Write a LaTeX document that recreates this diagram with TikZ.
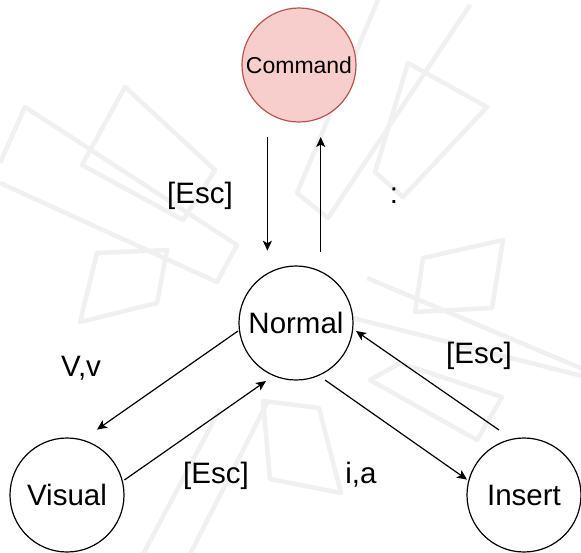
\documentclass[tikz,border=0pt]{standalone}
\usepackage{fontspec}
\setmainfont{Liberation Sans}
\usetikzlibrary{arrows.meta,calc}
\definecolor{cmdfill}{HTML}{F8CECC}
\definecolor{cmddraw}{HTML}{B85450}
\begin{document}
\begin{tikzpicture}[x=1pt,y=-1pt,
  bgshape/.style={draw=black!6, line width=4.5pt, line join=round},
  state/.style={circle, draw=black, line width=1.2pt, fill=white, minimum size=114pt, inner sep=0pt,
    font=\fontsize{29.5}{34}\selectfont},
  cmdstate/.style={state, fill=cmdfill, draw=cmddraw, font=\fontsize{23}{27}\selectfont},
  lbl/.style={inner sep=0pt, font=\fontsize{29.5}{34}\selectfont},
  arr/.style={line width=1.2pt, -{Stealth[length=10pt,width=9pt,inset=2.5pt]}}]
\useasboundingbox (0,0) rectangle (581,552);
\fill[white] (0,0) rectangle (581,552);
% faint background pattern
\draw[bgshape] (0,163)--(25,107)--(237,245)--(217,282)--(0,183);
\draw[bgshape] (125,87)--(215,170)--(183,220)--(82,165)--cycle;
\draw[bgshape] (97,253)--(167,250)--(157,303)--(80,322)--cycle;
\draw[bgshape] (408,63)--(487,107)--(403,197)--(375,172)--cycle;
\draw[bgshape] (380,-5)--(297,193)--(328,218)--(470,5);
\draw[bgshape] (423,258)--(503,240)--(492,308)--(415,312)--cycle;
\draw[bgshape] (370,380)--(400,363)--(502,397)--(477,440)--cycle;
\draw[bgshape] (263,401)--(319,408)--(341,493)--(270,479)--cycle;
\draw[bgshape] (220,409)--(140,560);
\draw[bgshape] (267,403)--(187,560);
\draw[bgshape] (353,318)--(590,378);
\draw[bgshape] (367,278)--(590,372);
% states
\node[cmdstate] (cmd) at (299,65) {Command};
\node[state] (normal) at (296,323) {Normal};
\node[state] (visual) at (67,495) {Visual};
\node[state] (insert) at (524,495) {Insert};
% connectors
\draw[arr] ($(cmd)+(-31.6,71.6)$) -- ($(normal)+(-28.6,-72.3)$);
\draw[arr] ($(normal)+(24.7,-71)$) -- ($(cmd)+(21.7,72)$);
\draw[arr] ($(normal)+(-58,8)$) -- ($(visual)+(30,-65.4)$);
\draw[arr] ($(visual)+(57.4,-15)$) -- ($(normal)+(-30,58)$);
\draw[arr] ($(normal)+(29,57)$) -- ($(insert)+(-57,-15.4)$);
\draw[arr] ($(insert)+(-25,-65)$) -- ($(normal)+(60,8)$);
% labels
\node[lbl] (l1) at (200,196) {[Esc]};
\node[lbl] (l2) at (394,196) {:};
\node[lbl] (l3) at (81,368) {V,v};
\node[lbl] (l4) at (479,356) {[Esc]};
\node[lbl] (l5) at (216,476) {[Esc]};
\node[lbl] (l6) at (361,475) {i,a};
\end{tikzpicture}
\end{document}
